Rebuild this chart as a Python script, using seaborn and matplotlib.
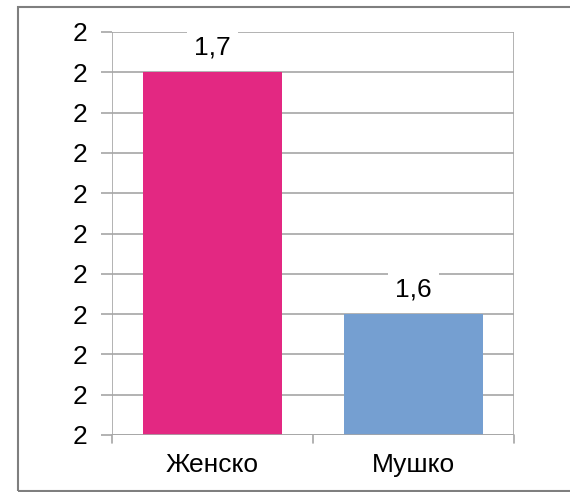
import matplotlib
matplotlib.use("Agg")
import matplotlib.pyplot as plt
import seaborn as sns
import pandas as pd
from matplotlib.ticker import FuncFormatter
from matplotlib.patches import Rectangle

categories = ["Женско", "Мушко"]
values = [1.74, 1.62]
bar_labels = ["1,7", "1,6"]
colors = ["#E32882", "#759FD1"]
y_ticks = [1.56, 1.58, 1.60, 1.62, 1.64, 1.66, 1.68, 1.70, 1.72, 1.74, 1.76]

sns.set_style("white")
plt.rcParams['font.family'] = ['Liberation Sans', 'DejaVu Sans']
plt.rcParams['text.color'] = 'black'
FS = 19

fig = plt.figure(figsize=(5.7, 4.92), dpi=100)
ax = fig.add_axes([112/570, 1-435/492, (514-112)/570, (435-32)/492])

df = pd.DataFrame({"cat": categories, "val": values})
sns.barplot(data=df, x="cat", y="val", hue="cat", palette=colors, width=0.69,
            legend=False, ax=ax, saturation=1, linewidth=0)

grid_c = "#A6A6A6"
ax.set_ylim(y_ticks[0], y_ticks[-1])
ax.set_yticks(y_ticks)
ax.yaxis.set_major_formatter(FuncFormatter(lambda v, p: f"{v:.0f}"))
ax.set_xlim(-0.5, 1.5)
ax.set_xlabel("")
ax.set_ylabel("")
ax.grid(axis="y", color=grid_c, linewidth=1.2)
ax.set_axisbelow(True)
for s in ["top", "bottom", "left", "right"]:
    ax.spines[s].set_visible(False)
ax.axvline(-0.5, color=grid_c, lw=1.2)
ax.axvline(1.5, color=grid_c, lw=1.2)
ax.axhline(y_ticks[0], color=grid_c, lw=1.2)
ax.tick_params(axis="y", length=8, width=1.2, color=grid_c, labelsize=FS, pad=10,
               left=True, labelcolor="black")
ax.tick_params(axis="x", length=0, labelsize=FS, pad=13, labelcolor="black")
for xv in [-0.5, 0.5, 1.5]:
    ax.plot([xv, xv], [0, -0.02], transform=ax.get_xaxis_transform(), color=grid_c, lw=1.2, clip_on=False)

for i, c in enumerate(ax.containers):
    ax.bar_label(c, labels=[bar_labels[i]], padding=9, fontsize=FS, color="black",
                 bbox=dict(facecolor="white", edgecolor="none", pad=5))

fig.patches.append(Rectangle((18/570, 1-490.5/492), 0.99, (490.5-6.5)/492,
                             transform=fig.transFigure, fill=False,
                             edgecolor="#7F7F7F", lw=1.5))
fig.savefig("out.png", dpi=100)
